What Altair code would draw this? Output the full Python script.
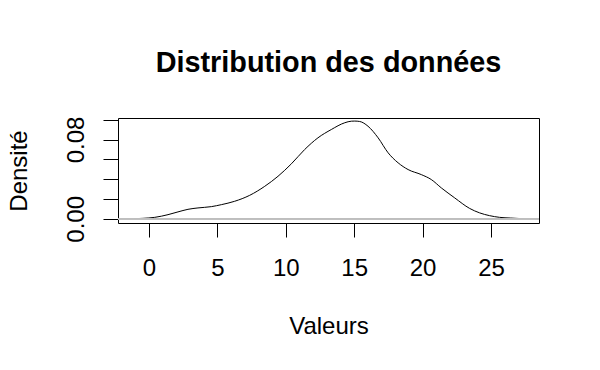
import altair as alt
import pandas as pd

# Density curve
dens_x = [-1.1, -0.44, 0.42, 1.39, 2.12, 2.85, 3.58, 4.56, 5.29, 6.26, 7.36, 8.46,
          9.43, 10.41, 11.38, 12.35, 13.33, 14.31, 14.80, 15.04, 15.40, 16.01, 16.75,
          17.48, 18.21, 18.94, 19.91, 20.64, 21.37, 22.35, 23.44, 24.17, 24.90, 25.63,
          26.42, 27.37]
dens_y = [0.0001, 0.0005, 0.0015, 0.0042, 0.0070, 0.0096, 0.0110, 0.0123, 0.0143,
          0.0177, 0.0237, 0.0328, 0.0429, 0.0555, 0.0699, 0.0817, 0.0901, 0.0969,
          0.0985, 0.0986, 0.0982, 0.0934, 0.0817, 0.0666, 0.0565, 0.0497, 0.0446,
          0.0396, 0.0312, 0.0211, 0.0105, 0.0060, 0.0032, 0.0015, 0.0008, 0.0001]

x_ticks = [0, 5, 10, 15, 20, 25]
y_ticks = [0.0, 0.02, 0.04, 0.06, 0.08, 0.10]

title_text = "Distribution des données"
x_title = "Valeurs"
y_title = "Densité"

df = pd.DataFrame({"x": dens_x, "y": dens_y})

W, H = 421, 105
FONT = "Liberation Sans"

x_enc = alt.X(
    "x:Q",
    scale=alt.Scale(domain=[-2.266, 28.51], nice=False, zero=False),
    axis=alt.Axis(
        values=x_ticks, tickCount=20, grid=False, domain=False, tickSize=14,
        tickColor="black",
        labelFontSize=24, labelFont=FONT, labelColor="black", labelPadding=38.7,
        labelBaseline="alphabetic", labelAlign="center", labelOverlap=False,
        title=x_title, titleFont=FONT, titleFontSize=24, titleFontWeight="normal",
        titleColor="black", titleX=W / 2, titleY=110.7, titleAlign="center",
        titleBaseline="alphabetic",
    ),
)
y_enc = alt.Y(
    "y:Q",
    scale=alt.Scale(domain=[-0.0042, 0.1017], nice=False, zero=False),
    axis=alt.Axis(
        values=y_ticks, tickCount=20, format=".2f", grid=False, domain=False,
        tickSize=15, tickColor="black", labelFontSize=24, labelFont=FONT,
        labelColor="black", labelAngle=270, labelAlign="center",
        labelBaseline="alphabetic", labelPadding=20, labelOverlap=False,
        labelExpr="(datum.value < 0.001 || abs(datum.value - 0.08) < 0.001) ? datum.label : ''",
        title=y_title, titleFont=FONT, titleFontSize=24, titleFontWeight="normal",
        titleColor="black", titleAngle=270, titleX=-91.5, titleY=H / 2,
        titleAlign="center", titleBaseline="alphabetic",
    ),
)

line = alt.Chart(df).mark_line(color="black", strokeWidth=1, interpolate="monotone").encode(
    x=x_enc, y=y_enc
)
zero = alt.Chart(df).mark_rule(color="#BEBEBE", strokeWidth=1).encode(y=alt.datum(0))

chart = (
    alt.layer(line, zero)
    .properties(
        width=W,
        height=H,
        title=alt.TitleParams(
            title_text, font=FONT, fontSize=28.8, fontWeight="bold", color="black",
            anchor="middle", frame="group", baseline="alphabetic", offset=15,
        ),
        autosize=alt.AutoSizeParams(type="none"),
        padding={"left": 110, "top": 110, "right": 53, "bottom": 139},
        background="white",
    )
    .configure_view(stroke="black", strokeWidth=1)
)

chart.save("out.html", embed_options={"renderer": "svg", "actions": False})
